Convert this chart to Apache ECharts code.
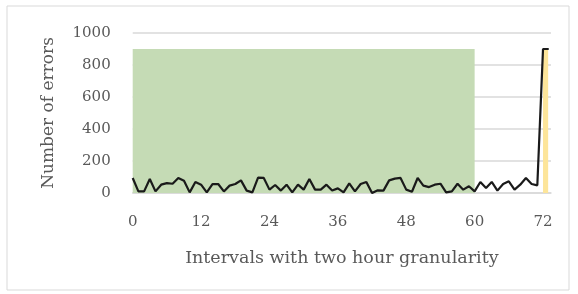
<!DOCTYPE html>
<html>
<head>
<meta charset="utf-8">
<script src="https://cdn.jsdelivr.net/npm/echarts@6/dist/echarts.min.js"></script>
<style>
  html, body { margin: 0; padding: 0; background: #fff; }
  #chart { width: 578px; height: 294px; }
</style>
</head>
<body>
<div id="chart"></div>
<script>
// interval index (two hour steps)
const intervals = [0, 1, 2, 3, 4, 5, 6, 7, 8, 9, 10, 11, 12, 13, 14, 15, 16, 17, 18, 19,
    20, 21, 22, 23, 24, 25, 26, 27, 28, 29, 30, 31, 32, 33, 34, 35, 36, 37, 38, 39,
    40, 41, 42, 43, 44, 45, 46, 47, 48, 49, 50, 51, 52, 53, 54, 55, 56, 57, 58, 59,
    60, 61, 62, 63, 64, 65, 66, 67, 68, 69, 70, 71, 72, 73]
const errors = [94, 10, 10, 88, 10, 52, 62, 58, 94, 77, 4, 69, 52, 4, 56, 56, 10, 46, 56, 79,
    15, 4, 96, 94, 21, 50, 15, 52, 4, 52, 21, 88, 21, 21, 52, 15, 29, 4, 60, 10,
    56, 69, 0, 17, 15, 79, 90, 94, 21, 8, 94, 46, 37, 52, 58, 4, 10, 58, 21, 42,
    10, 69, 31, 69, 15, 56, 73, 21, 52, 94, 56, 48, 900, 900]
const yTicks = [0, 200, 400, 600, 800, 1000]

// shaded regions: [xStart, xEnd, height]
const trainRegion = [0, 60, 900]
const anomalyRegion = [72, 72.9, 900]

const fontFamily = 'DejaVu Serif'
const textColor = '#595959'

let lineData = []
for (let i = 0; i < intervals.length; i++) {
    lineData.push([intervals[i], errors[i]])
}

let dom = document.getElementById('chart')
let myChart = echarts.init(dom, null, { renderer: 'canvas' })

let option = {
    animation: false,
    backgroundColor: '#fff',
    graphic: [{
        type: 'rect',
        shape: { x: 7, y: 6, width: 562, height: 284 },
        style: { fill: 'none', stroke: '#d9d9d9', lineWidth: 1 },
        z: -1
    }],
    grid: {
        left: 132.7,
        right: 27,
        top: 33,
        bottom: 101
    },
    xAxis: {
        type: 'value',
        min: 0,
        max: 73.4,
        interval: 12,
        name: 'Intervals with two hour granularity',
        nameLocation: 'middle',
        nameGap: 56,
        nameTextStyle: { fontFamily: fontFamily, fontSize: 17.5, color: textColor },
        axisLine: { show: true, lineStyle: { color: '#d9d9d9', width: 1.5 } },
        axisTick: { show: false },
        splitLine: { show: false },
        axisLabel: {
            fontFamily: fontFamily, fontSize: 15, color: textColor, margin: 22,
            showMaxLabel: false
        }
    },
    yAxis: {
        type: 'value',
        min: yTicks[0],
        max: yTicks[yTicks.length - 1],
        interval: 200,
        name: 'Number of errors',
        nameLocation: 'middle',
        nameGap: 76,
        nameTextStyle: { fontFamily: fontFamily, fontSize: 17, color: textColor },
        axisLine: { show: false },
        axisTick: { show: false },
        splitLine: { lineStyle: { color: '#d9d9d9', width: 1.5 } },
        axisLabel: {
            fontFamily: fontFamily, fontSize: 15, color: textColor, margin: 22,
            formatter: (v) => String(v)
        }
    },
    series: [{
        name: 'Errors',
        type: 'line',
        data: lineData,
        symbol: 'none',
        lineStyle: { color: '#1a1a1a', width: 2.2 },
        z: 5,
        markArea: {
            silent: true,
            data: [
                [{ coord: [trainRegion[0], 0], itemStyle: { color: '#c5dbb5' } },
                 { coord: [trainRegion[1], trainRegion[2]] }],
                [{ coord: [anomalyRegion[0], 0], itemStyle: { color: '#fde59a' } },
                 { coord: [anomalyRegion[1], anomalyRegion[2]] }]
            ]
        }
    }]
}

myChart.setOption(option)
</script>
</body>
</html>
